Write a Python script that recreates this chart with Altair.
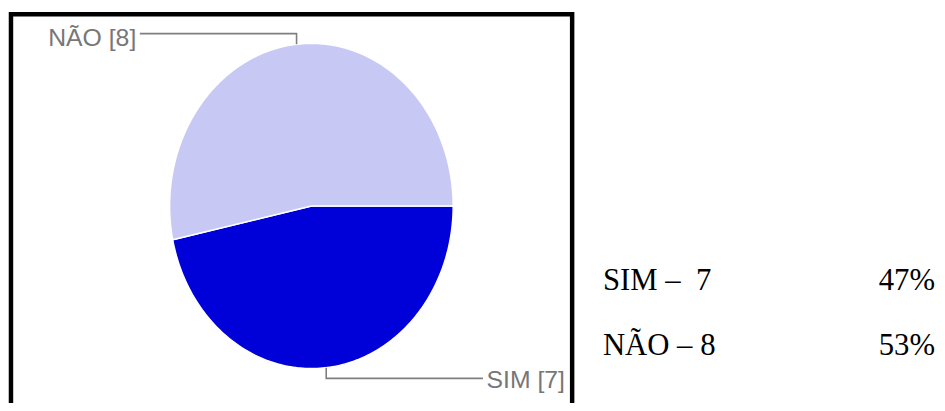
import numpy as np
import pandas as pd
import altair as alt

# ---- data -------------------------------------------------------------
categories = ["SIM", "NÃO"]
counts = [7, 8]
slice_colors = ["#0000d8", "#c8c8f5"]
summary_labels = ["SIM –\u00a0\u00a07", "NÃO – 8"]

total = sum(counts)

# ---- layout constants (pixels / unit ellipse) ------------------------
W, H = 937, 395
CX, CY = 306, 198          # pie centre in plot pixels
RX, RY = 143, 164          # pixels per unit in x / y (stretched pie)
ELBOW = 1.06               # leader elbow radius (unit)
LEAD_X = 1.21              # leader horizontal end (unit)

x_dom = [-CX / RX, (W - CX) / RX]
y_dom = [-(H - CY) / RY, CY / RY]

# ---- pie polygons built from the counts ------------------------------
poly = []
lead = []
lab = []
start = 0.0
for cat, c in zip(categories, counts):
    sweep = 360.0 * c / total
    angs = np.radians(np.linspace(start, start + sweep, int(sweep) + 2))
    pts = [(0.0, 0.0)] + [(np.cos(a), -np.sin(a)) for a in angs] + [(0.0, 0.0)]
    for i, (px, py) in enumerate(pts):
        poly.append({"cat": cat, "o": i, "x": px, "y": py})
    m = np.radians(start + sweep / 2)
    ax, ay = np.cos(m), -np.sin(m)
    side = 1 if ax >= 0 else -1
    ey = ELBOW if ay > 0 else -ELBOW
    for i, (px, py) in enumerate([(ax, ay), (ax, ey), (side * LEAD_X, ey)]):
        lead.append({"cat": cat, "o": i, "x": px, "y": py})
    lab.append({"cat": cat, "text": f"{cat} [{c}]", "x": side * (LEAD_X + 0.025),
                "y": ey, "side": side})
    start += sweep

poly_df = pd.DataFrame(poly)
lead_df = pd.DataFrame(lead)
lab_df = pd.DataFrame(lab)
summary_df = pd.DataFrame({
    "idx": list(range(len(categories))),
    "label": summary_labels,
    "pct": [f"{round(100 * c / total)}%" for c in counts],
})

xs = alt.Scale(domain=x_dom, nice=False, zero=False)
ys = alt.Scale(domain=y_dom, nice=False, zero=False)

pie = alt.Chart(poly_df).mark_line(
    filled=True, stroke="white", strokeWidth=1.5, strokeJoin="round"
).encode(
    x=alt.X("x:Q", scale=xs, axis=None),
    y=alt.Y("y:Q", scale=ys, axis=None),
    color=alt.Color("cat:N", scale=alt.Scale(domain=categories, range=slice_colors), legend=None),
    order="o:Q",
)

leaders = alt.Chart(lead_df).mark_line(color="#7f7f7f", strokeWidth=1.6).encode(
    x=alt.X("x:Q", scale=xs, axis=None),
    y=alt.Y("y:Q", scale=ys, axis=None),
    detail="cat:N",
    order="o:Q",
)

lab_base = alt.Chart(lab_df).encode(
    x=alt.X("x:Q", scale=xs, axis=None),
    y=alt.Y("y:Q", scale=ys, axis=None),
    text="text:N",
)
lab_left = lab_base.transform_filter("datum.side < 0").mark_text(
    align="right", baseline="middle", dy=4, font="Liberation Sans", fontSize=25, color="#777777")
lab_right = lab_base.transform_filter("datum.side > 0").mark_text(
    align="left", baseline="middle", dy=2, font="Liberation Sans", fontSize=25, color="#777777")

frame = alt.Chart(pd.DataFrame({"a": [0]})).mark_rect(
    filled=False, stroke="black", strokeWidth=4.5
).encode(
    x=alt.value(3), x2=alt.value(569), y=alt.value(4.5), y2=alt.value(430)
)

sum_base = alt.Chart(summary_df).transform_calculate(
    ypix="283 + 65 * datum.idx"
).encode(y=alt.Y("ypix:Q", scale=None))
sum_lbl = sum_base.mark_text(
    align="left", baseline="alphabetic", font="Liberation Serif", fontSize=31, color="black"
).encode(x=alt.value(600), text="label:N")
sum_pct = sum_base.mark_text(
    align="right", baseline="alphabetic", font="Liberation Serif", fontSize=31, color="black"
).encode(x=alt.value(935), text="pct:N")

chart = alt.layer(
    pie, leaders, lab_left, lab_right, frame, sum_lbl, sum_pct
).properties(
    width=W, height=H, padding=0, autosize="none"
).configure_view(stroke=None)

chart.save("out.html", embed_options={"renderer": "svg", "actions": False})
